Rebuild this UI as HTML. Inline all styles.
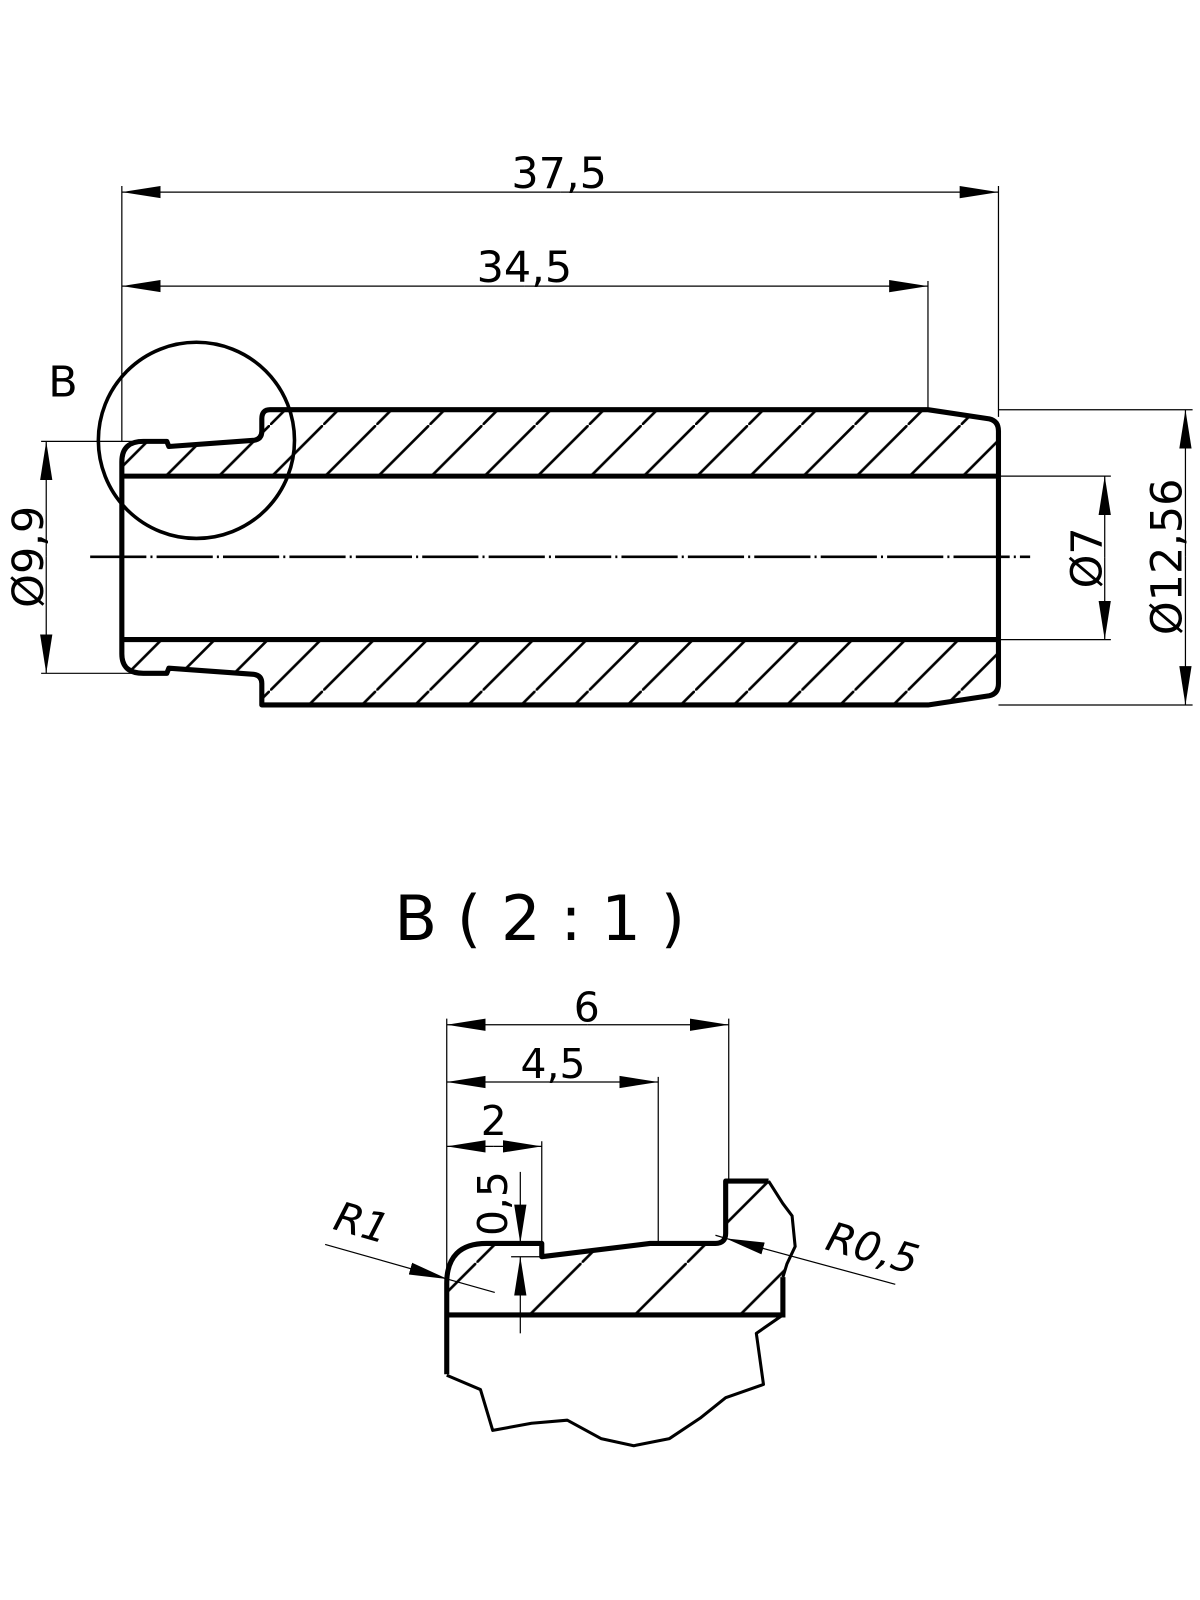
<!DOCTYPE html>
<html><head><meta charset="utf-8"><style>
html,body{margin:0;padding:0;background:#fff;}
svg{display:block;}
text{font-family:"DejaVu Sans","Liberation Sans",sans-serif;fill:#000;}
</style></head><body>
<svg width="1200" height="1600" viewBox="0 0 1174 1566" xmlns="http://www.w3.org/2000/svg">
<defs>
<pattern id="h1" patternUnits="userSpaceOnUse" width="52" height="52" x="4" y="0">
<line x1="-2" y1="54" x2="54" y2="-2" stroke="#000" stroke-width="2.6"/>
</pattern>
<pattern id="h2" patternUnits="userSpaceOnUse" width="103" height="103" x="54" y="0">
<line x1="-3" y1="106" x2="106" y2="-3" stroke="#000" stroke-width="2.6"/>
</pattern>
<marker id="a" markerWidth="40" markerHeight="14" refX="38" refY="7" orient="auto" markerUnits="userSpaceOnUse">
<path d="M0,1 L38,7 L0,13 Z" fill="#000"/>
</marker>
</defs>

<path d="M119,466 L119,452 Q119,432 140,432 L163,432 L165,437 L248,431 Q256,430 256,422 L256,410 Q256,401 264,401 L908,401 L968,410 Q977,412 977,422 L977,466 Z" fill="url(#h1)"/>
<path d="M119,626 L119,640 Q119,659 140,659 L163,659 L165,654 L248,660 Q256,661 256,669 L256,690 L908,690 L968,681 Q977,679 977,669 L977,626 Z" fill="url(#h1)"/>

<path d="M264,401 L908,401 L968,410 Q977,412 977,422 L977,669 Q977,679 968,681 L908,690 L256,690 L256,669 Q256,661 248,660 L165,654 L163,659 L140,659 Q119,659 119,640 L119,452 Q119,432 140,432 L163,432 L165,437 L248,431 Q256,430 256,422 L256,410 Q256,401 264,401 Z" fill="none" stroke="#000" stroke-width="5" stroke-linejoin="round"/>
<line x1="119" y1="466" x2="977" y2="466" stroke="#000" stroke-width="5"/>
<line x1="119" y1="626" x2="977" y2="626" stroke="#000" stroke-width="5"/>

<line x1="88" y1="545" x2="1008" y2="545" stroke="#000" stroke-width="2.5" stroke-dasharray="55 4 2 4"/>

<circle cx="192" cy="431" r="96" fill="none" stroke="#000" stroke-width="3.5"/>
<text x="47" y="388" font-size="42">B</text>

<g stroke="#000" stroke-width="1.2" fill="none">
<line x1="119" y1="182" x2="119" y2="432"/>
<line x1="977" y1="182" x2="977" y2="408"/>
<line x1="908" y1="275" x2="908" y2="399"/>
<line x1="40" y1="432" x2="140" y2="432"/>
<line x1="40" y1="659" x2="140" y2="659"/>
<line x1="977" y1="466" x2="1087" y2="466"/>
<line x1="977" y1="626" x2="1087" y2="626"/>
<line x1="977" y1="401" x2="1167" y2="401"/>
<line x1="977" y1="690" x2="1167" y2="690"/>
<line x1="548" y1="188" x2="119" y2="188" marker-end="url(#a)"/>
<line x1="548" y1="188" x2="977" y2="188" marker-end="url(#a)"/>
<line x1="513" y1="280" x2="119" y2="280" marker-end="url(#a)"/>
<line x1="513" y1="280" x2="908" y2="280" marker-end="url(#a)"/>
<line x1="45" y1="545" x2="45" y2="432" marker-end="url(#a)"/>
<line x1="45" y1="545" x2="45" y2="659" marker-end="url(#a)"/>
<line x1="1081" y1="546" x2="1081" y2="466" marker-end="url(#a)"/>
<line x1="1081" y1="546" x2="1081" y2="626" marker-end="url(#a)"/>
<line x1="1160" y1="545" x2="1160" y2="401" marker-end="url(#a)"/>
<line x1="1160" y1="545" x2="1160" y2="690" marker-end="url(#a)"/>
</g>
<text x="547" y="184" font-size="42" text-anchor="middle">37,5</text>
<text x="513" y="276" font-size="42" text-anchor="middle">34,5</text>
<text transform="translate(42,545) rotate(-90)" font-size="42" text-anchor="middle">Ø9,9</text>
<text transform="translate(1078,546) rotate(-90)" font-size="42" text-anchor="middle">Ø7</text>
<text transform="translate(1156,545) rotate(-90)" font-size="42" text-anchor="middle">Ø12,56</text>

<text x="528" y="920" font-size="61" text-anchor="middle">B ( 2 : 1 )</text>

<path d="M437,1287 L437,1256 Q437,1217 476,1217 L530,1217 L530,1230 L636,1217 L700,1217 Q710,1217 710,1207 L710,1156 L752,1156 L766,1178 L775,1190 L777,1220 L770,1237 L766,1250 L766,1287 Z" fill="url(#h2)"/>
<path d="M437,1345 L437,1256 Q437,1217 476,1217 L530,1217 L530,1230 L636,1217 L700,1217 Q710,1217 710,1207 L710,1156 L752,1156" fill="none" stroke="#000" stroke-width="5" stroke-linejoin="round"/>
<path d="M766,1250 L766,1287 L437,1287" fill="none" stroke="#000" stroke-width="5"/>
<path d="M752,1156 L766,1178 L775,1190 L778,1220 L770,1237 L766,1250" fill="none" stroke="#000" stroke-width="3"/>
<path d="M766,1287 L740,1305 L747,1355 L710,1368 L685,1388 L655,1408 L620,1415 L588,1408 L555,1390 L520,1393 L482,1400 L470,1360 L437,1346" fill="none" stroke="#000" stroke-width="3" stroke-linejoin="round"/>

<g stroke="#000" stroke-width="1.2" fill="none">
<line x1="437" y1="997" x2="437" y2="1250"/>
<line x1="713" y1="997" x2="713" y2="1156"/>
<line x1="644" y1="1054" x2="644" y2="1217"/>
<line x1="530" y1="1117" x2="530" y2="1217"/>
<line x1="575" y1="1003" x2="437" y2="1003" marker-end="url(#a)"/>
<line x1="575" y1="1003" x2="713" y2="1003" marker-end="url(#a)"/>
<line x1="540" y1="1059" x2="437" y2="1059" marker-end="url(#a)"/>
<line x1="540" y1="1059" x2="644" y2="1059" marker-end="url(#a)"/>
<line x1="483" y1="1122" x2="437" y2="1122" marker-end="url(#a)"/>
<line x1="483" y1="1122" x2="530" y2="1122" marker-end="url(#a)"/>
<line x1="509" y1="1147" x2="509" y2="1217" marker-end="url(#a)"/>
<line x1="509" y1="1305" x2="509" y2="1230" marker-end="url(#a)"/>
<line x1="500" y1="1230" x2="530" y2="1230"/>
<line x1="318" y1="1218" x2="438" y2="1252" marker-end="url(#a)"/>
<line x1="438" y1="1252" x2="484" y2="1265"/>
<line x1="876" y1="1257" x2="710" y2="1212" marker-end="url(#a)"/>
<line x1="710" y1="1212" x2="700" y2="1209"/>
</g>
<text x="574" y="1000" font-size="40" text-anchor="middle">6</text>
<text x="541" y="1055" font-size="40" text-anchor="middle">4,5</text>
<text x="483" y="1111" font-size="40" text-anchor="middle">2</text>
<text transform="translate(496,1178) rotate(-90)" font-size="40" text-anchor="middle">0,5</text>
<text transform="translate(350,1210) rotate(16)" font-size="40" font-style="italic" text-anchor="middle">R1</text>
<text transform="translate(850,1235) rotate(16)" font-size="40" font-style="italic" text-anchor="middle">R0,5</text>
</svg>
</body></html>
